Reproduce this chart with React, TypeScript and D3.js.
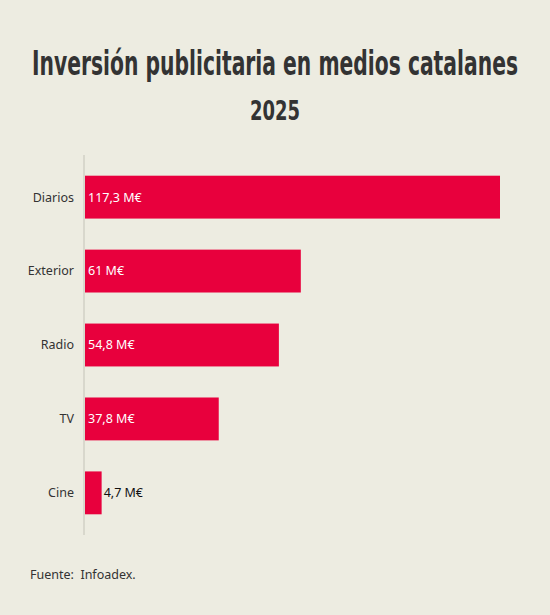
import React from "react";
import * as d3 from "d3";

// Inversión por medio (millones de euros)
const categories = ["Diarios", "Exterior", "Radio", "TV", "Cine"];
const values = [117.3, 61, 54.8, 37.8, 4.7];
const valueLabels = ["117,3 M€", "61 M€", "54,8 M€", "37,8 M€", "4,7 M€"];

const title = "Inversión publicitaria en medios catalanes";
const subtitle = "2025";
const source = "Fuente:  Infoadex.";

const width = 550;
const height = 615;
const margin = { top: 155, right: 50, bottom: 80, left: 84 };

const BG = "#edece1";
const BAR = "#e8003d";
const labelFont = "'Noto Sans', 'Open Sans', sans-serif";

export default function App() {
  const x = d3
    .scaleLinear()
    .domain([0, d3.max(values)!])
    .range([margin.left + 1, width - margin.right]);

  const y = d3
    .scaleBand<string>()
    .domain(categories)
    .range([margin.top, height - margin.bottom])
    .paddingInner(0.42)
    .paddingOuter(0.28);

  return (
    <svg
      width={width}
      height={height}
      style={{ display: "block", position: "absolute", left: 0, top: 0 }}
    >
      <rect width={width} height={height} fill={BG} />

      <text
        x={width / 2}
        y={75}
        textAnchor="middle"
        fill="#333"
        fontFamily="'Liberation Sans Narrow', 'DejaVu Sans Condensed', sans-serif"
        fontWeight="bold"
        fontSize={33}
        textLength={486}
        lengthAdjust="spacingAndGlyphs"
      >
        {title}
      </text>
      <text
        x={width / 2}
        y={120}
        textAnchor="middle"
        fill="#333"
        fontFamily="'Liberation Sans Narrow', 'DejaVu Sans Condensed', sans-serif"
        fontWeight="bold"
        fontSize={27}
        textLength={50}
        lengthAdjust="spacingAndGlyphs"
      >
        {subtitle}
      </text>

      {categories.map((c, i) => {
        const y0 = y(c)!;
        const bw = x(values[i]) - x(0);
        const inside = bw > 60;
        return (
          <g key={c}>
            <rect
              x={x(0)}
              y={y0}
              width={bw}
              height={y.bandwidth()}
              fill={BAR}
            />
            <text
              x={margin.left - 10}
              y={y0 + y.bandwidth() / 2}
              dy="0.35em"
              textAnchor="end"
              fill="#333"
              fontFamily={labelFont}
              fontSize={12.5}
            >
              {c}
            </text>
            <text
              x={inside ? x(0) + 3 : x(values[i]) + 2}
              y={y0 + y.bandwidth() / 2}
              dy="0.35em"
              fill={inside ? "#fff" : "#111"}
              fontFamily={labelFont}
              fontSize={12.5}
            >
              {valueLabels[i]}
            </text>
          </g>
        );
      })}

      <line
        x1={margin.left}
        x2={margin.left}
        y1={margin.top}
        y2={height - margin.bottom}
        stroke="#c4c3b8"
        strokeWidth={1}
      />

      <text
        x={30}
        y={579}
        fill="#333"
        fontFamily={labelFont}
        fontSize={12.5}
        style={{ whiteSpace: "pre" }}
      >
        {source}
      </text>
    </svg>
  );
}
